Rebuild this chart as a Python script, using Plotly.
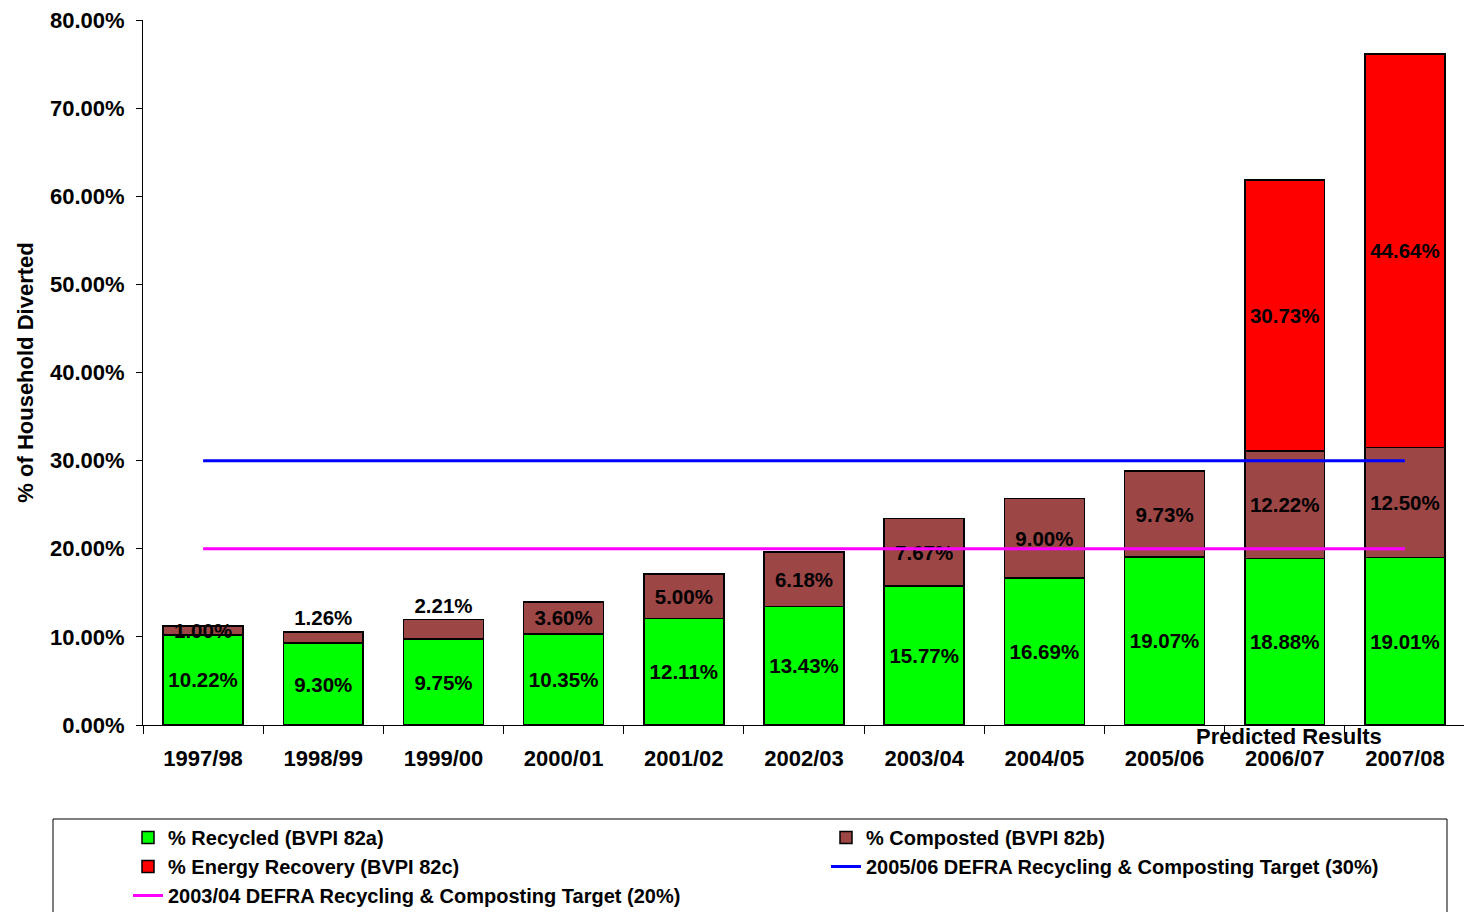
import plotly.graph_objects as go

years = ["1997/98", "1998/99", "1999/00", "2000/01", "2001/02", "2002/03",
         "2003/04", "2004/05", "2005/06", "2006/07", "2007/08"]
recycled = [10.22, 9.30, 9.75, 10.35, 12.11, 13.43, 15.77, 16.69, 19.07, 18.88, 19.01]
composted = [1.00, 1.26, 2.21, 3.60, 5.00, 6.18, 7.67, 9.00, 9.73, 12.22, 12.50]
energy = [None, None, None, None, None, None, None, None, None, 30.73, 44.64]
target_2005 = [30] * len(years)
target_2003 = [20] * len(years)
composted_textpos = ["inside", "outside", "outside"] + ["inside"] * 8

FONT = "Liberation Sans, Arial, sans-serif"
axf = dict(family=FONT, size=22, color="black", weight="bold")
tf = dict(family=FONT, size=20.5, color="black", weight="bold")
lf = dict(family=FONT, size=20, color="black", weight="bold")

fig = go.Figure()
fig.add_trace(go.Bar(
    x=years, y=recycled, name="% Recycled (BVPI 82a)",
    marker=dict(color="#00FF00", line=dict(color="black", width=1.5)),
    text=[f"{v:.2f}%" for v in recycled], textposition="inside",
    insidetextanchor="middle", textfont=tf, constraintext="none"))
fig.add_trace(go.Bar(
    x=years, y=composted, name="% Composted (BVPI 82b)",
    marker=dict(color="#9C4646", line=dict(color="black", width=1.5)),
    text=[f"{v:.2f}%" for v in composted], textposition=composted_textpos,
    insidetextanchor="middle", textfont=tf, constraintext="none", cliponaxis=False))
fig.add_trace(go.Bar(
    x=years, y=energy, name="% Energy Recovery (BVPI 82c)",
    marker=dict(color="#FF0000", line=dict(color="black", width=1.5)),
    text=[f"{v:.2f}%" if v is not None else "" for v in energy], textposition="inside",
    insidetextanchor="middle", textfont=tf, constraintext="none"))
fig.add_trace(go.Scatter(
    x=years, y=target_2005, mode="lines", name="2005/06 DEFRA Recycling & Composting Target (30%)",
    line=dict(color="#0000FF", width=3)))
fig.add_trace(go.Scatter(
    x=years, y=target_2003, mode="lines", name="2003/04 DEFRA Recycling & Composting Target (20%)",
    line=dict(color="#FF00FF", width=3)))

fig.add_annotation(x="2006/07", xref="x", y=0, yref="paper", text="Predicted Results",
                   showarrow=False, xshift=4, yshift=-11, yanchor="middle", font=axf)

# legend frame
fig.add_shape(type="rect", xref="paper", yref="paper",
              x0=(53 - 143) / 1322, x1=(1447 - 143) / 1322,
              y0=(725 - 960) / 705, y1=(725 - 819) / 705,
              line=dict(color="black", width=1), fillcolor="rgba(0,0,0,0)")

fig.update_layout(
    width=1472, height=912,
    barmode="stack", bargap=0.335,
    plot_bgcolor="white", paper_bgcolor="white",
    margin=dict(l=135, r=15, t=12, b=195, autoexpand=False),
    font=lf,
    uniformtext=dict(minsize=20, mode="show"),
    showlegend=True,
    legend=dict(orientation="h", xref="paper", yref="paper",
                x=(120 - 135) / 1322, y=(717 - 810) / 705, xanchor="left", yanchor="top",
                entrywidth=653, entrywidthmode="pixels",
                font=lf, bgcolor="rgba(0,0,0,0)", traceorder="normal"),
    xaxis=dict(type="category", showline=True, linecolor="black", linewidth=1,
               ticks="outside", tickson="boundaries", ticklen=8, tickcolor="black",
               showgrid=False, tickfont=axf, ticklabelstandoff=14),
    yaxis=dict(range=[0, 80], dtick=10, tickformat=".2f", ticksuffix="%",
               showline=True, linecolor="black", linewidth=1,
               ticks="outside", ticklen=6, tickcolor="black", showgrid=False,
               zeroline=False, tickfont=axf, ticklabelstandoff=7,
               ticklabeloverflow="allow",
               title=dict(text="% of Household Diverted", font=axf, standoff=10)),
)

fig.write_html("out.html")
